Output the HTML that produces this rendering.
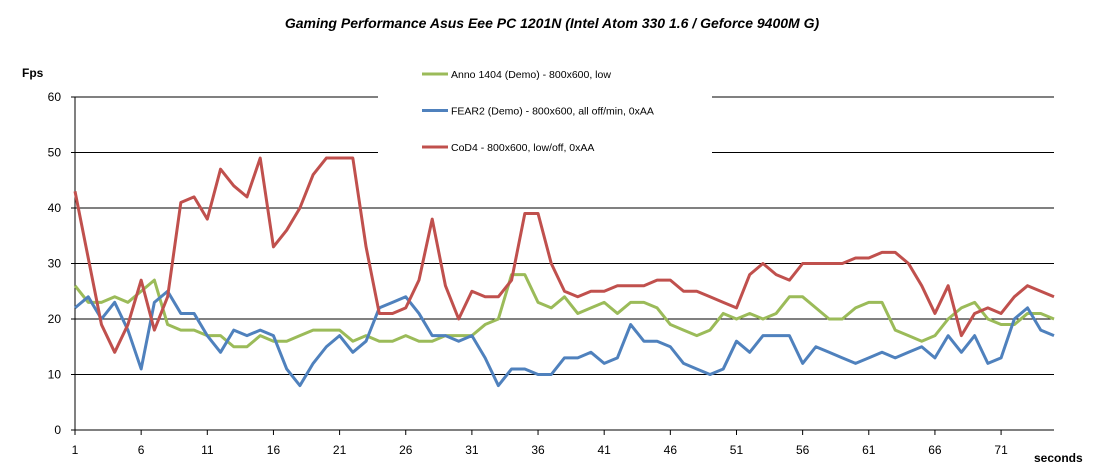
<!DOCTYPE html>
<html><head><meta charset="utf-8"><style>
body{margin:0;background:#fff;}
svg{display:block;font-family:"Liberation Sans",Arial,sans-serif;}
</style></head><body>
<svg id="chart" width="1104" height="470" viewBox="0 0 1104 470">
<text x="552" y="28" text-anchor="middle" font-size="14" font-weight="bold" font-style="italic">Gaming Performance Asus Eee PC 1201N (Intel Atom 330 1.6 / Geforce 9400M G)</text>
<text x="22" y="77" font-size="12" font-weight="bold">Fps</text>
<text x="1034" y="462" font-size="12" font-weight="bold">seconds</text>
<g id="grid"></g><g id="axes"></g><g id="series"></g><g id="legend"></g>
</svg>
<script>
const categories = Array.from({length:75},(_,i)=>i+1);
const anno = [26,23,23,24,23,25,27,19,18,18,17,17,15,15,17,16,16,17,18,18,18,16,17,16,16,17,16,16,17,17,17,19,20,28,28,23,22,24,21,22,23,21,23,23,22,19,18,17,18,21,20,21,20,21,24,24,22,20,20,22,23,23,18,17,16,17,20,22,23,20,19,19,21,21,20];
const fear = [22,24,20,23,18,11,23,25,21,21,17,14,18,17,18,17,11,8,12,15,17,14,16,22,23,24,21,17,17,16,17,13,8,11,11,10,10,13,13,14,12,13,19,16,16,15,12,11,10,11,16,14,17,17,17,12,15,14,13,12,13,14,13,14,15,13,17,14,17,12,13,20,22,18,17];
const cod = [43,31,19,14,19,27,18,24,41,42,38,47,44,42,49,33,36,40,46,49,49,49,33,21,21,22,27,38,26,20,25,24,24,27,39,39,30,25,24,25,25,26,26,26,27,27,25,25,24,23,22,28,30,28,27,30,30,30,30,31,31,32,32,30,26,21,26,17,21,22,21,24,26,25,24];
const yTicks = [0,10,20,30,40,50,60];
const xTickLabels = [1,6,11,16,21,26,31,36,41,46,51,56,61,66,71];
const seriesNames = ["Anno 1404 (Demo) - 800x600,  low","FEAR2 (Demo) - 800x600,  all off/min, 0xAA","CoD4 - 800x600, low/off, 0xAA"];
const colors = ["#9bbb59","#4f81bd","#c0504d"];

const NS="http://www.w3.org/2000/svg";
const x0=75,x1=1054,yb=430,yt=97;
const xs=i=>x0+(i-1)*(x1-x0)/(categories.length-1);
const ys=v=>yb-(v/60)*(yb-yt);
function mk(tag,attrs,parent){const e=document.createElementNS(NS,tag);for(const k in attrs)e.setAttribute(k,attrs[k]);parent.appendChild(e);return e;}
const grid=document.getElementById('grid'),axes=document.getElementById('axes'),ser=document.getElementById('series'),leg=document.getElementById('legend');
yTicks.forEach(v=>{
  if(v>0){const l=mk('line',{x1:x0,x2:x1,y1:ys(v),y2:ys(v),stroke:'#000','stroke-width':1},grid);
  
  }
  mk('line',{x1:x0-4,x2:x0,y1:ys(v),y2:ys(v),stroke:'#000'},axes);
  const t=mk('text',{x:61,y:ys(v)+4,'text-anchor':'end','font-size':12},axes);t.textContent=v;
  
  
});
mk('line',{x1:x0,x2:x0,y1:yt,y2:yb,stroke:'#000'},axes);
mk('line',{x1:x0,x2:x1,y1:yb,y2:yb,stroke:'#000'},axes);
xTickLabels.forEach(c=>{
  mk('line',{x1:xs(c),x2:xs(c),y1:yb,y2:yb+5,stroke:'#000'},axes);
  const t=mk('text',{x:xs(c),y:yb+24,'text-anchor':'middle','font-size':12},axes);t.textContent=c;
  
  
});
[anno,fear,cod].forEach((d,k)=>{
  const p=mk('polyline',{points:d.map((v,i)=>xs(categories[i])+','+ys(v)).join(' '),fill:'none',stroke:colors[k],'stroke-width':3,'stroke-linejoin':'round'},ser);
  
  
});
mk('rect',{x:378,y:58,width:334,height:100,fill:'#fff'},leg);
seriesNames.forEach((n,k)=>{
  const y=74+k*36.5;
  const g=mk('g',{},leg);
  
  
  mk('line',{x1:422,x2:448,y1:y,y2:y,stroke:colors[k],'stroke-width':3},g);
  const t=mk('text',{x:451,y:y+4,'font-size':10.5},g);t.textContent=n;
});
</script>
</body></html>
